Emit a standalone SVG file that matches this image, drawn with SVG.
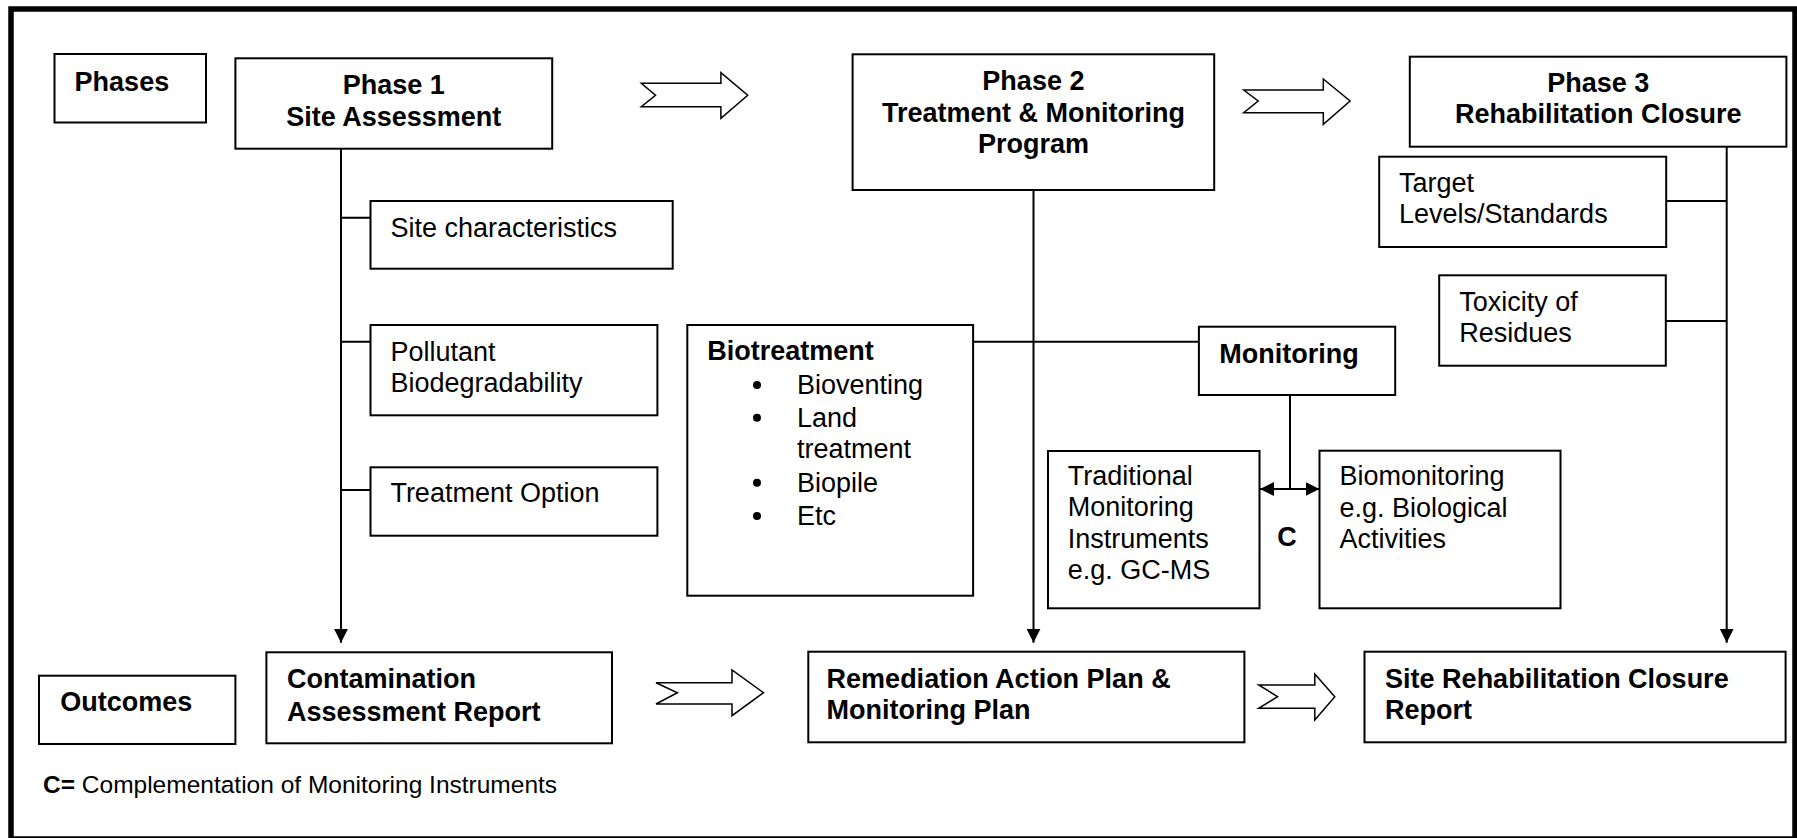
<svg xmlns="http://www.w3.org/2000/svg" width="1797" height="838" viewBox="0 0 1797 838">
<style>
.box{fill:#fff;stroke:#000;stroke-width:2}
.ln{fill:none;stroke:#000;stroke-width:2}
.blk{fill:#fff;stroke:#000;stroke-width:1.5}
text{font-family:"Liberation Sans",Arial,sans-serif;font-size:27px;fill:#000}
.b{font-weight:bold}
.c{text-anchor:middle}
</style>
<defs>
<marker id="ah" markerUnits="userSpaceOnUse" markerWidth="14" markerHeight="14" refX="14" refY="7" orient="auto-start-reverse">
<path d="M0,0 L14,7 L0,14 z" fill="#000"/>
</marker>
</defs>
<rect x="11" y="9" width="1784" height="830" fill="#fff" stroke="#000" stroke-width="5.5"/>

<g id="connectors">
<path class="ln" d="M341,148.7 V642.7" marker-end="url(#ah)"/>
<path class="ln" d="M341,217.7 H370.5 M341,341.7 H370.5 M341,490 H370.5"/>
<path class="ln" d="M1033.5,190 V642.7" marker-end="url(#ah)"/>
<path class="ln" d="M973,341.7 H1199"/>
<path class="ln" d="M1290,395 V489"/>
<path class="ln" d="M1260,489 H1319.5" marker-start="url(#ah)" marker-end="url(#ah)"/>
<path class="ln" d="M1726.7,146.7 V642.7" marker-end="url(#ah)"/>
<path class="ln" d="M1666,201 H1726.7 M1666,321 H1726.7"/>
<path class="blk" d="M641.3,83.3 L720.9,83.3 L720.9,72.7 L747.7,95.3 L720.9,118.3 L720.9,106.7 L641.3,106.7 L655.5,95.3 Z"/>
<path class="blk" d="M1243.7,90 L1323.3,90 L1323.3,79 L1350.1,101 L1323.3,124.3 L1323.3,112.7 L1243.7,112.7 L1258.2,101 Z"/>
<path class="blk" d="M656,682.7 L732,682.7 L732,670 L763.5,692.7 L732,715.7 L732,704 L656,704 L677.4,692.7 Z"/>
<path class="blk" d="M1258.7,685 L1314.8,685 L1314.8,674 L1334.8,696.7 L1314.8,720 L1314.8,708.3 L1258.7,708.3 L1277.6,696.7 Z"/>
</g>

<g id="phases">
<rect class="box" x="54.5" y="54" width="151.5" height="68.5"/>
<text class="b" x="74.6" y="90.7">Phases</text>
</g>
<g id="phase1">
<rect class="box" x="235.4" y="58.3" width="316.8" height="90.4"/>
<text class="b c" x="393.8" y="94">Phase 1</text>
<text class="b c" x="393.8" y="125.7">Site Assessment</text>
</g>
<g id="phase2">
<rect class="box" x="852.6" y="54.3" width="361.6" height="135.7"/>
<text class="b c" x="1033.4" y="90">Phase 2</text>
<text class="b c" x="1033.4" y="121.7">Treatment &amp; Monitoring</text>
<text class="b c" x="1033.4" y="153.3">Program</text>
</g>
<g id="phase3">
<rect class="box" x="1409.8" y="56.7" width="376.6" height="90"/>
<text class="b c" x="1598.3" y="91.7">Phase 3</text>
<text class="b c" x="1598.3" y="123.3">Rehabilitation Closure</text>
</g>

<g id="site-characteristics">
<rect class="box" x="370.5" y="201" width="302.2" height="67.7"/>
<text x="390.4" y="237.3">Site characteristics</text>
</g>
<g id="pollutant">
<rect class="box" x="370.5" y="325" width="286.9" height="90.3"/>
<text x="390.4" y="361">Pollutant</text>
<text x="390.4" y="391.5">Biodegradability</text>
</g>
<g id="treatment-option">
<rect class="box" x="370.5" y="467.3" width="286.9" height="68.4"/>
<text x="390.4" y="502.3">Treatment Option</text>
</g>

<g id="biotreatment">
<rect class="box" x="687.3" y="325" width="285.8" height="270.7"/>
<text class="b" x="707.2" y="360">Biotreatment</text>
<circle cx="757" cy="385" r="4"/>
<text x="797" y="394">Bioventing</text>
<circle cx="757" cy="417.7" r="4"/>
<text x="797" y="426.7">Land</text>
<text x="797" y="458.3">treatment</text>
<circle cx="757" cy="482.7" r="4"/>
<text x="797" y="491.7">Biopile</text>
<circle cx="757" cy="516" r="4"/>
<text x="797" y="525">Etc</text>
</g>

<g id="monitoring">
<rect class="box" x="1198.9" y="326.7" width="196.3" height="68.3"/>
<text class="b" x="1219.2" y="363.3">Monitoring</text>
</g>
<g id="traditional">
<rect class="box" x="1048" y="451" width="211.5" height="157.3"/>
<text x="1067.7" y="485">Traditional</text>
<text x="1067.7" y="516">Monitoring</text>
<text x="1067.7" y="547.5">Instruments</text>
<text x="1067.7" y="578.5">e.g. GC-MS</text>
</g>
<text class="b c" x="1287" y="546">C</text>
<g id="biomonitoring">
<rect class="box" x="1319.5" y="450.7" width="241" height="157.6"/>
<text x="1339.4" y="485">Biomonitoring</text>
<text x="1339.4" y="516.7">e.g. Biological</text>
<text x="1339.4" y="548.3">Activities</text>
</g>

<g id="target">
<rect class="box" x="1379.2" y="156.7" width="287" height="90.3"/>
<text x="1399" y="191.7">Target</text>
<text x="1399" y="222.7">Levels/Standards</text>
</g>
<g id="toxicity">
<rect class="box" x="1439.2" y="275.3" width="226.6" height="90.4"/>
<text x="1459.2" y="310.5">Toxicity of</text>
<text x="1459.2" y="341.7">Residues</text>
</g>

<g id="outcomes">
<rect class="box" x="39" y="675.7" width="196.4" height="68.3"/>
<text class="b" x="60.3" y="710.7">Outcomes</text>
</g>
<g id="contamination">
<rect class="box" x="266.4" y="652.3" width="345.6" height="91"/>
<text class="b" x="287" y="688.3">Contamination</text>
<text class="b" x="287" y="720.7">Assessment Report</text>
</g>
<g id="remediation">
<rect class="box" x="808.3" y="651.7" width="436.1" height="90.6"/>
<text class="b" x="826.6" y="688.3">Remediation Action Plan &amp;</text>
<text class="b" x="826.6" y="719.3">Monitoring Plan</text>
</g>
<g id="closure-report">
<rect class="box" x="1364.5" y="651.7" width="421.1" height="90.6"/>
<text class="b" x="1385.1" y="688.3">Site Rehabilitation Closure</text>
<text class="b" x="1385.1" y="719.3">Report</text>
</g>

<text x="43" y="793.3" style="font-size:24.5px"><tspan class="b">C=</tspan> Complementation of Monitoring Instruments</text>
</svg>
